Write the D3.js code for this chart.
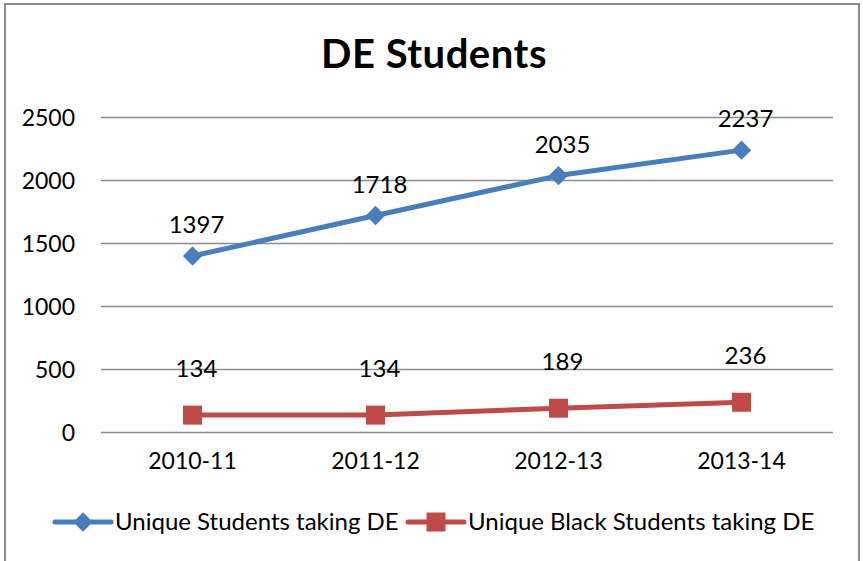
<!DOCTYPE html>
<html>
<head>
<meta charset="utf-8">
<script src="https://cdn.jsdelivr.net/npm/d3@7"></script>
<style>
  body { margin: 0; background: #fff; }
  text { font-family: Lato, "Open Sans", sans-serif; fill: #000; }
</style>
</head>
<body>
<div id="chart"></div>
<script>
// data
var years = ["2010-11", "2011-12", "2012-13", "2013-14"];
var allStudents = [1397, 1718, 2035, 2237];
var blackStudents = [134, 134, 189, 236];
var yTicks = [0, 500, 1000, 1500, 2000, 2500];
var seriesNames = ["Unique Students taking DE", "Unique Black Students taking DE"];

var width = 863, height = 561;
var plot = { left: 101, right: 833, top: 117, bottom: 432 };

var svg = d3.select("#chart").append("svg")
  .attr("width", width)
  .attr("height", height);

// outer border
svg.append("rect")
  .attr("x", 5).attr("y", 4)
  .attr("width", 854).attr("height", 570)
  .attr("fill", "none")
  .attr("stroke", "#8c8c8c")
  .attr("stroke-width", 2);

var x = d3.scaleBand()
  .domain(years)
  .range([plot.left, plot.right]);

var y = d3.scaleLinear()
  .domain([0, 2500])
  .range([plot.bottom, plot.top]);

// title
svg.append("text")
  .attr("x", 434).attr("y", 68)
  .attr("text-anchor", "middle")
  .style("font-size", "40px")
  .style("font-weight", "bold")
  .style("letter-spacing", "0.5px")
  .text("DE Students");

// gridlines + y labels
var yAxis = d3.axisLeft(y)
  .tickValues(yTicks)
  .tickFormat(d3.format("d"))
  .tickSize(-(plot.right - plot.left))
  .tickPadding(26);

var gy = svg.append("g")
  .attr("transform", "translate(" + plot.left + ",0)")
  .call(yAxis);
gy.select(".domain").remove();
gy.selectAll("line").attr("stroke", "#8c8c8c").attr("stroke-width", 1.5);
gy.selectAll("text").style("font-size", "23px").attr("dy", "0.36em");

// x labels
var xAxis = d3.axisBottom(x).tickSize(0).tickPadding(21);
var gx = svg.append("g")
  .attr("transform", "translate(0," + plot.bottom + ")")
  .call(xAxis);
gx.select(".domain").remove();
gx.selectAll("text").style("font-size", "23px");

var line = d3.line()
  .x(function(d, i) { return x(years[i]) + x.bandwidth() / 2; })
  .y(function(d) { return y(d); });

var diamond = d3.symbol().type(d3.symbolDiamond2).size(240);
var square = d3.symbol().type(d3.symbolSquare).size(361);

var series = [
  { values: allStudents, color: "#4a7ebb", symbol: diamond, labelUp: 23 },
  { values: blackStudents, color: "#be4b48", symbol: square, labelUp: 38 }
];

series.forEach(function(s) {
  svg.append("path")
    .datum(s.values)
    .attr("d", line)
    .attr("fill", "none")
    .attr("stroke", s.color)
    .attr("stroke-width", 5)
    .attr("stroke-linejoin", "round");

  svg.selectAll(null)
    .data(s.values)
    .enter()
    .append("path")
    .attr("d", s.symbol)
    .attr("fill", s.color)
    .attr("transform", function(d, i) {
      return "translate(" + (x(years[i]) + x.bandwidth() / 2) + "," + y(d) + ")";
    });

  svg.selectAll(null)
    .data(s.values)
    .enter()
    .append("text")
    .attr("x", function(d, i) { return x(years[i]) + x.bandwidth() / 2 + 4; })
    .attr("y", function(d) { return y(d) - s.labelUp; })
    .attr("text-anchor", "middle")
    .style("font-size", "24px")
    .text(function(d) { return d; });
});

// legend
var legend = [
  { x: 55, color: "#4a7ebb", symbol: diamond, name: seriesNames[0] },
  { x: 408, color: "#be4b48", symbol: square, name: seriesNames[1] }
];
var ly = 522;
legend.forEach(function(l) {
  svg.append("line")
    .attr("x1", l.x).attr("x2", l.x + 56)
    .attr("y1", ly).attr("y2", ly)
    .attr("stroke", l.color)
    .attr("stroke-width", 5)
    .attr("stroke-linecap", "round");
  svg.append("path")
    .attr("d", l.symbol)
    .attr("fill", l.color)
    .attr("transform", "translate(" + (l.x + 28) + "," + ly + ")");
  svg.append("text")
    .attr("x", l.x + 60).attr("y", ly)
    .attr("dy", "0.35em")
    .style("font-size", "24px")
    .text(l.name);
});
</script>
</body>
</html>
